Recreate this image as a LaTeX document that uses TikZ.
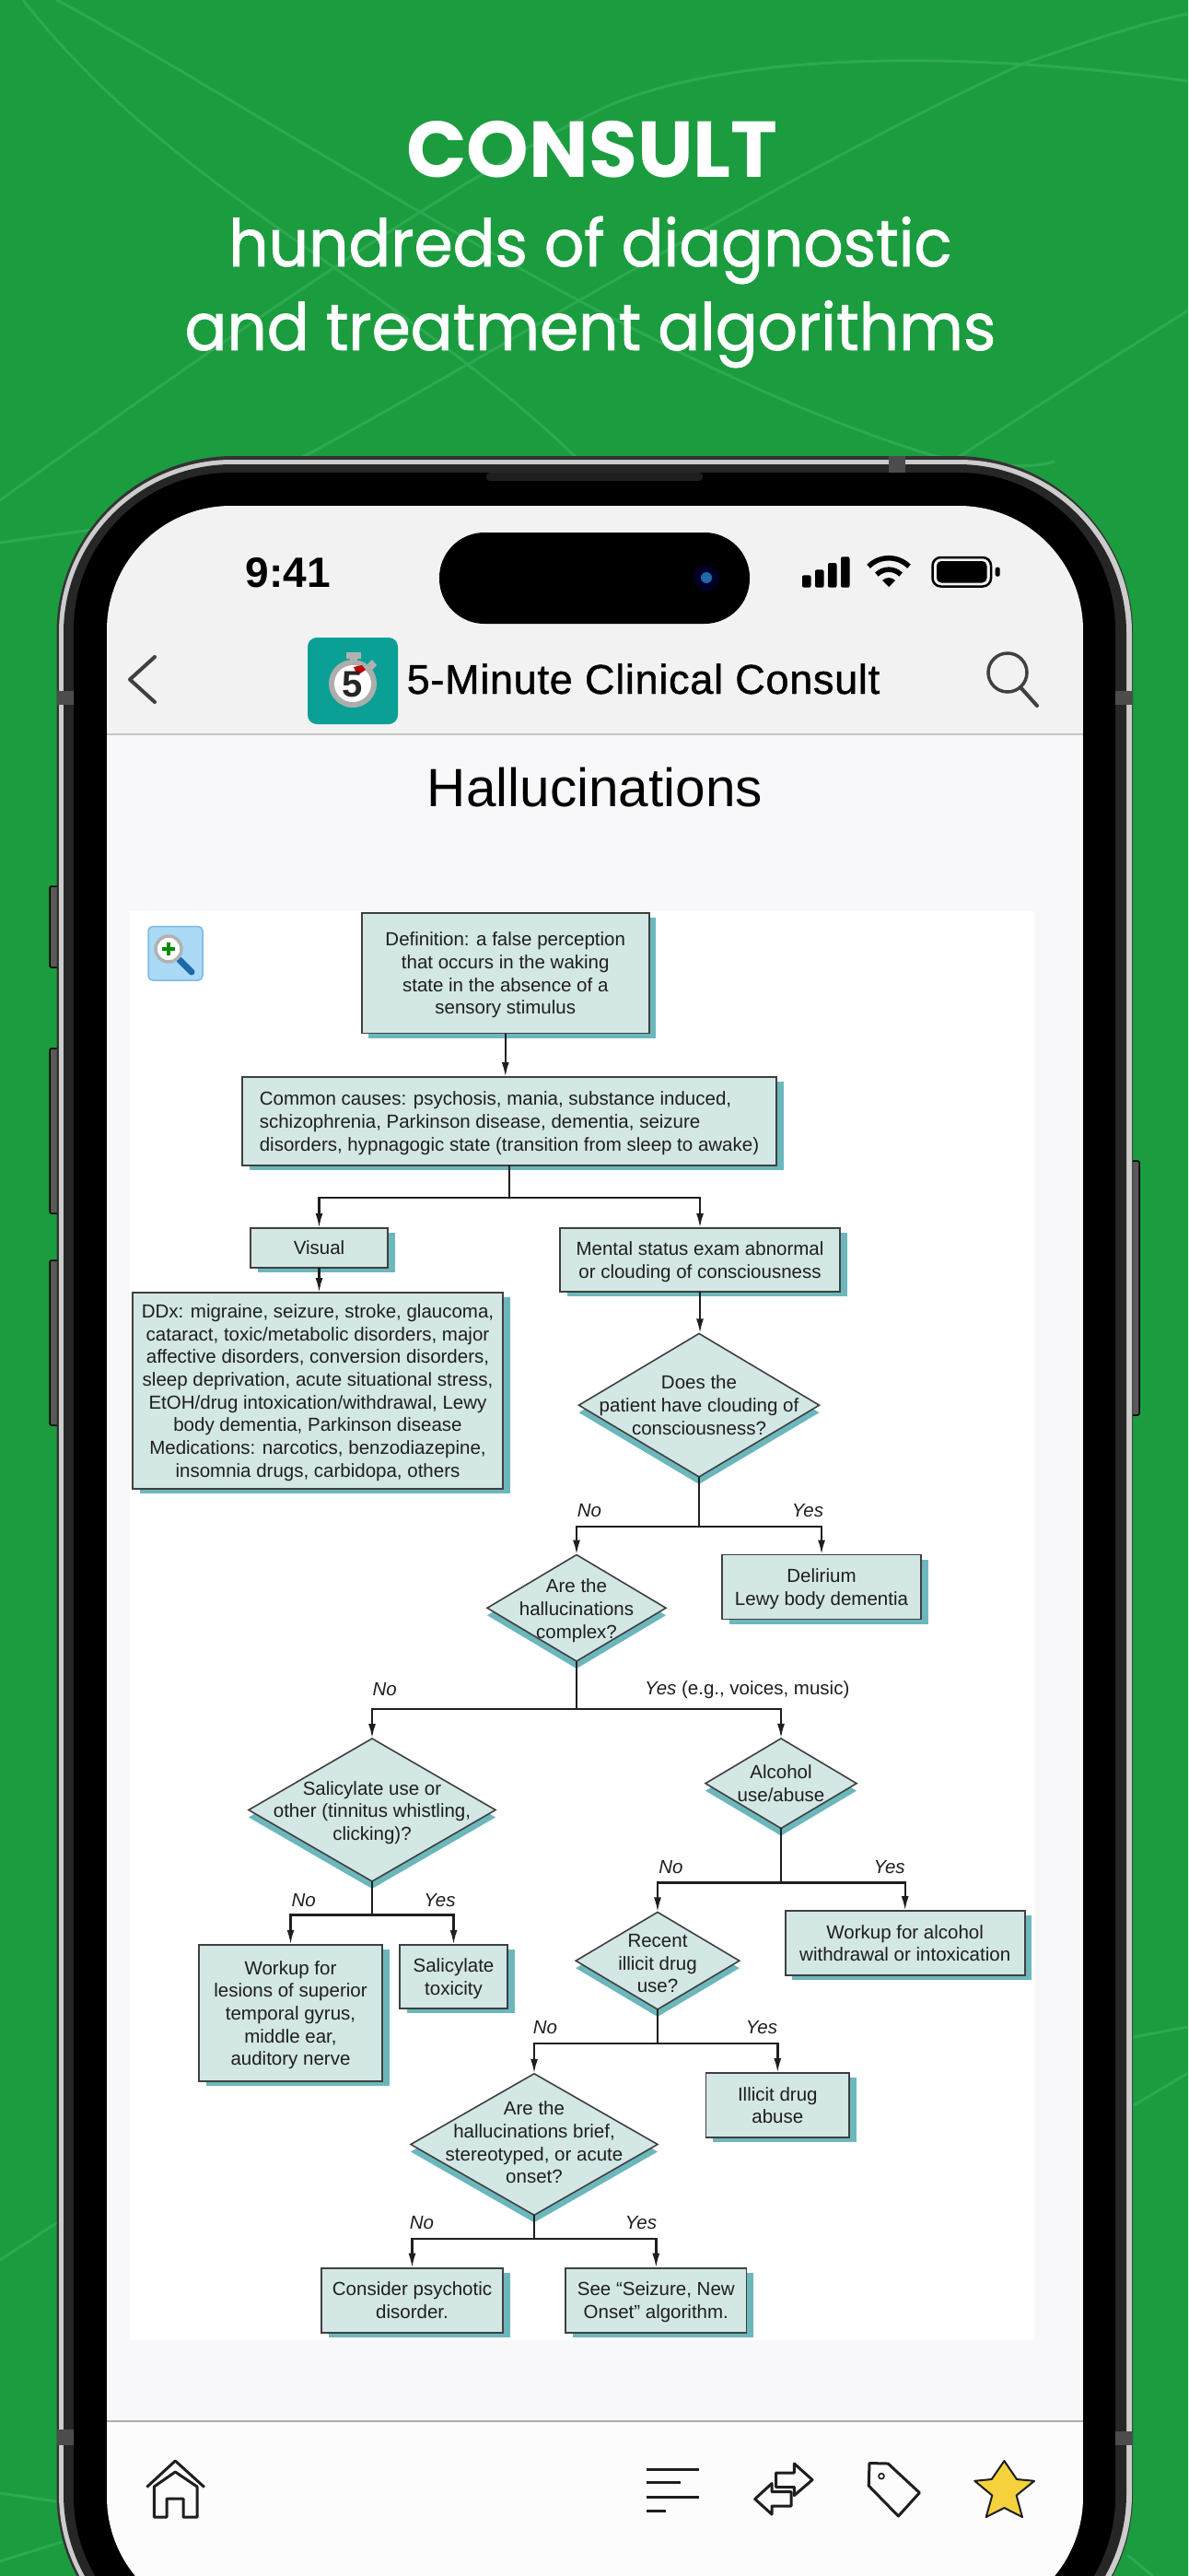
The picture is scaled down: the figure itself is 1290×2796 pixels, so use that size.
\documentclass[tikz,border=0pt]{standalone}
\usepackage{fontspec}
\setmainfont{Liberation Sans}
\newfontfamily\headfont{Poppins}
\newfontfamily\sublinefont[FakeBold=1.1,FakeStretch=0.955]{Poppins}
\newfontfamily\navfont[FakeBold=1,LetterSpace=1.6]{Liberation Sans}
\usetikzlibrary{shapes.geometric,shadows,arrows.meta}
\definecolor{bgTop}{RGB}{27,156,63}
\definecolor{bgMid}{RGB}{33,173,75}
\definecolor{swirl}{RGB}{46,169,82}
\definecolor{boxFill}{RGB}{211,231,229}
\definecolor{boxShadow}{RGB}{108,183,188}
\definecolor{inkDark}{RGB}{30,30,30}
\definecolor{appTeal}{RGB}{11,160,150}
\definecolor{starGold}{RGB}{245,210,60}
\definecolor{paperTint}{RGB}{248,248,250}
\definecolor{zoomFill}{RGB}{170,218,245}
\definecolor{zoomEdge}{RGB}{125,185,228}
\definecolor{zoomGrip}{RGB}{30,105,170}
\tikzset{
  flowtext/.style={align=center, text=inkDark, inner sep=0pt, font=\fontsize{20.5pt}{24.7pt}\selectfont},
  flowbox/.style={rectangle, draw=inkDark!85, line width=1.6pt, fill=boxFill, outer sep=0pt, flowtext, text depth=0pt,
    drop shadow={shadow xshift=7.5pt, shadow yshift=-5pt, fill=boxShadow, opacity=1}},
  flowdec/.style={diamond, draw=inkDark!85, line width=1.6pt, fill=boxFill, outer sep=0pt, inner sep=0pt,
    drop shadow={shadow xshift=0pt, shadow yshift=-8pt, fill=boxShadow, opacity=1}},
  flowline/.style={draw=inkDark, line width=2.4pt},
  flowarrow/.style={flowline, -{Latex[length=16pt,width=8pt]}},
  answer/.style={text=inkDark, inner sep=0pt, anchor=center, font=\fontsize{20.5pt}{24pt}\selectfont\itshape},
  swirlline/.style={draw=swirl, line width=3pt, line cap=round},
  iconline/.style={draw=inkDark, line width=3pt, line join=round},
  sidekey/.style={draw=black, line width=1.5pt, fill=black!65, rounded corners=2pt}
}
\begin{document}
\begin{tikzpicture}[x=1pt, y=-1pt]
  \useasboundingbox (0,0) rectangle (1290,2796);
  \clip (0,0) rectangle (1290,2796);

  % 1. background and its faint curves
  \shade[top color=bgTop, middle color=bgMid, bottom color=bgTop] (0,0) rectangle (1290,2796);
  \draw[swirlline] (25,0) .. controls (190,210) and (420,300) .. (625,496);
  \draw[swirlline] (62,0) .. controls (300,130) and (700,400) .. (1012,494) .. controls (1060,505) and (1120,510) .. (1144,501);
  \draw[swirlline] (0,543) .. controls (240,370) and (500,190) .. (660,115) .. controls (800,55) and (1050,55) .. (1290,88);
  \draw[swirlline] (329,496) .. controls (560,370) and (850,190) .. (1111,69) .. controls (1180,45) and (1240,25) .. (1290,15);
  \draw[swirlline] (1041,496) -- (1193,398) -- (1290,337);
  \draw[swirlline] (0,589) -- (107,574);
  \draw[swirlline] (0,2453) -- (61,2413);
  \draw[swirlline] (0,2706) -- (61,2715);
  \draw[swirlline] (0,2780) -- (67,2759);
  \draw[swirlline] (1231,2211) -- (1290,2200);
  \draw[swirlline] (1231,2285) -- (1290,2250);
  \draw[swirlline] (1225,2774) -- (1252,2796);

  % 2. headline
  \node[text=white, anchor=base, inner sep=0pt, font=\headfont\bfseries\fontsize{86pt}{90pt}\selectfont] (headA) at (643,193) {CONSULT};
  \node[text=white, anchor=base, inner sep=0pt, font=\sublinefont\fontsize{71pt}{80pt}\selectfont] (headB) at (641,289) {hundreds of diagnostic};
  \node[text=white, anchor=base, inner sep=0pt, font=\sublinefont\fontsize{71pt}{80pt}\selectfont] (headC) at (641,380) {and treatment algorithms};

  % 3. phone body
  \foreach \y/\h in {962/88,1138/179,1368/179} {
    \draw[sidekey] (54,\y) rectangle (64,\y+\h);
  }
  \draw[sidekey] (1228,1260) rectangle (1237,1536);
  \fill[black!80,rounded corners=192pt] (61.5,495) rectangle (1230,2899);
  \fill[black!20,rounded corners=188pt] (64,499) rectangle (1229,2895);
  \fill[black!85,rounded corners=183pt] (69,504) rectangle (1223,2890);
  \fill[black,rounded corners=170pt] (80,513) rectangle (1211,2880);
  \fill[black!70] (965,495) rectangle (983,513);
  \fill[black!70] (62,750) rectangle (80,765);
  \fill[black!70] (1211,750) rectangle (1230,765);
  \fill[black!70] (62,2637) rectangle (80,2654);
  \fill[black!70] (1211,2639) rectangle (1230,2654);
  \fill[black!88,rounded corners=4pt] (528,513) rectangle (763,522);

  % 4. screen
  \begin{scope}
    \clip[rounded corners=135pt] (116,549) rectangle (1176,2845);
    \fill[black!5] (116,549) rectangle (1176,797);
    \fill[paperTint] (116,797) rectangle (1176,2627);
    \fill[black!1!white] (116,2627) rectangle (1176,2845);
    \draw[black!22,line width=2pt] (116,797) -- (1176,797);
    \draw[black!32,line width=2pt] (116,2628) -- (1176,2628);
  \end{scope}
  \fill[white] (141,989) rectangle (1123,2539.5);

  % 5. status bar
  \node[text=black, anchor=base, inner sep=0pt, font=\bfseries\fontsize{46pt}{50pt}\selectfont] (clock) at (313,637) {9:41};
  \fill[black,rounded corners=49pt] (477,578) rectangle (814,677);
  \fill[black!85!blue] (767,627) circle[radius=14pt];
  \fill[zoomGrip] (767,627) circle[radius=6pt];
  \foreach \x/\t in {871/624.3,885/618.3,899/611,913/604.3} {
    \fill[black,rounded corners=2pt] (\x,\t) rectangle (\x+9.5,637.7);
  }
  \draw[black,line width=5.5pt] (943.1,614.8) arc[start angle=135, end angle=45, radius=31pt];
  \draw[black,line width=5.5pt] (951.9,623.6) arc[start angle=135, end angle=45, radius=18.5pt];
  \fill[black] (965,637) -- (958,630) arc[start angle=135, end angle=45, radius=9.9pt] -- cycle;
  \draw[black,line width=2.5pt,rounded corners=9pt] (1012.5,605) rectangle (1076,636.5);
  \fill[black,rounded corners=5pt] (1017,609) rectangle (1071.5,632.5);
  \fill[black,rounded corners=2pt] (1080.7,615.7) rectangle (1085.7,625.7);

  % 6. navigation bar
  \draw[black!75,line width=4pt,line cap=round,line join=round] (168,713) -- (141,737.5) -- (168,762);
  \fill[appTeal,rounded corners=10pt] (334,692) rectangle (432,786);
  \fill[black!30] (376,708) rectangle (392,715);
  \fill[black!30] (380,715) rectangle (388,722);
  \fill[black!30] (399,721) -- (404,716) -- (409,722) -- (404,727) -- cycle;
  \fill[black!32] (383,742) circle[radius=26pt];
  \fill[white] (383,742) circle[radius=20pt];
  \fill[red!75!black] (384,724) -- (393,722) -- (397,727) -- (388,733) -- cycle;
  \node[text=black!85, inner sep=0pt, font=\bfseries\fontsize{40pt}{42pt}\selectfont] (appnum) at (383,743) {5};
  \node[text=black, anchor=base, inner sep=0pt, font=\navfont\fontsize{45pt}{48pt}\selectfont] (apptitle) at (698.5,753) {5-Minute Clinical Consult};
  \draw[black!75,line width=3.5pt] (1094,730) circle[radius=21pt];
  \draw[black!75,line width=4pt,line cap=round] (1108,746) -- (1126,766);
  \node[text=black, anchor=base, inner sep=0pt, font=\fontsize{58.5pt}{62pt}\selectfont] (pagetitle) at (646,875) {Hallucinations};

  % 7. zoom button of the panel
  \fill[zoomFill,draw=zoomEdge,line width=1.5pt,rounded corners=5pt] (161,1005.5) rectangle (220,1064);
  \draw[zoomGrip,line width=7pt,line cap=round] (195,1042) -- (208,1055);
  \fill[white,draw=black!30,line width=3.5pt] (183,1030) circle[radius=14pt];
  \draw[green!55!black,line width=3.5pt] (176,1030) -- (190,1030) (183,1023) -- (183,1037);

  % 8. flow chart
  \node[flowbox, minimum width=312pt, minimum height=130.5pt] (definition) at (548.75,1056.3)
    {Definition: a false perception\\that occurs in the waking\\state in the absence of a\\sensory stimulus};
  \node[flowbox, align=left, minimum width=580pt, minimum height=96pt] (causes) at (553,1217)
    {Common causes: psychosis, mania, substance induced,\\schizophrenia, Parkinson disease, dementia, seizure\\disorders, hypnagogic state (transition from sleep to awake)};
  \node[flowbox, minimum width=149pt, minimum height=43pt] (visual) at (346.5,1354.5) {Visual};
  \node[flowbox, minimum width=304pt, minimum height=69pt] (mental) at (760,1367.5)
    {Mental status exam abnormal\\or clouding of consciousness};
  \node[flowbox, minimum width=402pt, minimum height=213pt] (ddx) at (345,1509.5)
    {DDx: migraine, seizure, stroke, glaucoma,\\cataract, toxic/metabolic disorders, major\\affective disorders, conversion disorders,\\sleep deprivation, acute situational stress,\\EtOH/drug intoxication/withdrawal, Lewy\\body dementia, Parkinson disease\\Medications: narcotics, benzodiazepine,\\insomnia drugs, carbidopa, others};
  \node[flowdec, minimum width=261pt, minimum height=155.5pt,
    label={[flowtext]center:{Does the\\patient have clouding of\\consciousness?}}] (qcloud) at (759,1525.2) {};
  \node[flowbox, minimum width=216pt, minimum height=70pt] (delirium) at (892,1722.5) {Delirium\\Lewy body dementia};
  \node[flowdec, minimum width=194pt, minimum height=115.5pt,
    label={[flowtext,yshift=-3pt]center:{Are the\\hallucinations\\complex?}}] (qcomplex) at (626,1745.3) {};
  \node[flowdec, minimum width=268pt, minimum height=155pt,
    label={[flowtext,yshift=-3pt]center:{Salicylate use or\\other (tinnitus whistling,\\clicking)?}}] (qsalicylate) at (404,1964.5) {};
  \node[flowdec, minimum width=164pt, minimum height=97.5pt,
    label={[flowtext]center:{Alcohol\\use/abuse}}] (qalcohol) at (848,1935.7) {};
  \node[flowbox, minimum width=199pt, minimum height=148.5pt] (lesions) at (315.5,2185)
    {Workup for\\lesions of superior\\temporal gyrus,\\middle ear,\\auditory nerve};
  \node[flowbox, minimum width=117pt, minimum height=69.5pt] (toxicity) at (492.5,2145.5) {Salicylate\\toxicity};
  \node[flowdec, minimum width=177.5pt, minimum height=105.5pt,
    label={[flowtext,yshift=-3pt]center:{Recent\\illicit drug\\use?}}] (qrecent) at (714,2128.2) {};
  \node[flowbox, minimum width=260pt, minimum height=70pt] (withdrawal) at (982.7,2109)
    {Workup for alcohol\\withdrawal or intoxication};
  \node[flowdec, minimum width=268pt, minimum height=153.5pt,
    label={[flowtext,yshift=2pt]center:{Are the\\hallucinations brief,\\stereotyped, or acute\\onset?}}] (qbrief) at (580,2327.5) {};
  \node[flowbox, minimum width=155.5pt, minimum height=70pt] (illicit) at (844.3,2285) {Illicit drug\\abuse};
  \node[flowbox, minimum width=197pt, minimum height=70pt] (psychotic) at (447.5,2496.7) {Consider psychotic\\disorder.};
  \node[flowbox, minimum width=196.5pt, minimum height=70pt] (seizure) at (712.3,2496.7) {See “Seizure, New\\Onset” algorithm.};

  \draw[flowarrow] (definition.south) -- (definition.south |- causes.north);
  \draw[flowarrow] (visual.south) -- (visual.south |- ddx.north);
  \draw[flowarrow] (mental.south) -- (mental.south |- qcloud.north);

  % 9. branches: decision, joint, left child, right child
  \foreach \from/\jx/\jy/\left/\right in {
      causes/553/1300/visual/mental,
      qcloud/759/1657/qcomplex/delirium,
      qcomplex/626/1855/qsalicylate/qalcohol,
      qsalicylate/404/2078.6/lesions/toxicity,
      qalcohol/848/2043.4/qrecent/withdrawal,
      qrecent/714/2218/qbrief/illicit,
      qbrief/580/2430/psychotic/seizure} {
    \coordinate (joint\from) at (\jx,\jy);
    \draw[flowline] (\from.south) -- (\from.south |- joint\from);
    \draw[flowarrow] (joint\from) -| (\left.north);
    \draw[flowarrow] (joint\from) -| (\right.north);
  }

  \node[answer] (noA) at (640,1640) {No};
  \node[answer] (yesA) at (877,1640) {Yes};
  \node[answer] (noB) at (417.6,1834) {No};
  \node[inner sep=0pt, text=inkDark, anchor=west, font=\fontsize{20.5pt}{24pt}\selectfont] (yesB) at (700,1834) {\textit{Yes} (e.g., voices, music)};
  \node[answer] (noC) at (329.6,2063) {No};
  \node[answer] (yesC) at (477.4,2063) {Yes};
  \node[answer] (noD) at (728.4,2027) {No};
  \node[answer] (yesD) at (965.6,2027) {Yes};
  \node[answer] (noE) at (592,2201) {No};
  \node[answer] (yesE) at (827,2201) {Yes};
  \node[answer] (noF) at (458,2413) {No};
  \node[answer] (yesF) at (696,2413) {Yes};

  % 10. bottom bar icons
  \draw[iconline] (159.4,2699.5) -- (190.3,2671) -- (221.8,2699.5);
  \draw[iconline] (181,2732) -- (167.3,2732) -- (167.3,2699) -- (190.3,2683) -- (214,2699) -- (214,2732) -- (199,2732) -- (199,2712) -- (181,2712) -- cycle;
  \foreach \y/\e in {2680/759,2694/739,2710/759,2725/723} {
    \draw[iconline] (701.5,\y) -- (\e,\y);
  }
  \draw[iconline] (842.7,2684) -- (862.4,2684) -- (862.4,2674) -- (882,2691.6) -- (862.4,2708.5) -- (862.4,2699.5) -- (842.7,2699.5) -- cycle;
  \draw[iconline] (859,2704.7) -- (838,2704.7) -- (838,2695.5) -- (819.7,2712.4) -- (838,2729) -- (838,2720) -- (859,2720) -- cycle;
  \draw[iconline] (944,2673.5) -- (964.3,2674) -- (998.4,2705.6) -- (975.4,2731) -- (943.2,2698) -- cycle;
  \draw[inkDark,line width=1.6pt] (957,2687.6) circle[radius=3pt];
  \fill[starGold,draw=inkDark,line width=2pt,line join=round] (1090.4,2671) -- (1104,2691) -- (1123,2692.8) -- (1103.6,2708.5) -- (1110,2732) -- (1090.4,2722) -- (1070.7,2732) -- (1077.3,2708.5) -- (1058.3,2692.8) -- (1076.7,2691) -- cycle;
\end{tikzpicture}
\end{document}
